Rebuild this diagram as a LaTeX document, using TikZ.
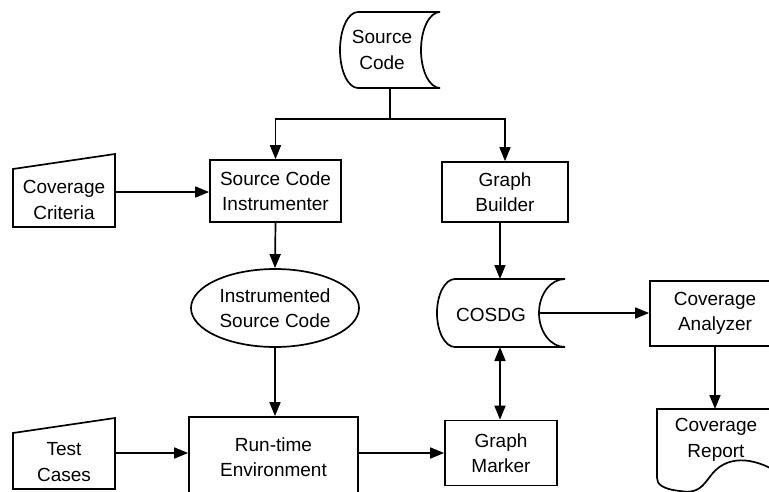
\documentclass[tikz,border=0pt]{standalone}
\usepackage{fontspec}
\setmainfont{Liberation Sans}
\usetikzlibrary{arrows.meta,shapes.geometric,calc}
\begin{document}
\begin{tikzpicture}[x=1pt,y=1pt,
  line width=1.7pt,
  every node/.style={font=\fontsize{19}{25.5}\selectfont, align=center, inner sep=0pt},
  box/.style={draw, rectangle},
  arr/.style={-{Triangle[length=14pt,width=11pt]}},
  darr/.style={{Triangle[length=14pt,width=11pt]}-{Triangle[length=14pt,width=11pt]}}]
\useasboundingbox (0,0) rectangle (769,-491);
\clip (0,0) rectangle (769,-491);

% Source Code (stored data)
\draw (358,-12) arc[start angle=90,end angle=270,x radius=18,y radius=38] -- (440,-88)
      arc[start angle=270,end angle=90,x radius=19,y radius=38] -- cycle;
\node (src) at (382,-50) {Source\\Code};
\coordinate (srcout) at (390,-88);
\coordinate (split) at (390,-119);

% Source Code Instrumenter
\node[box, minimum width=131pt, minimum height=62pt] (sci) at (275.5,-191) {Source Code\\Instrumenter};
% Graph Builder
\node[box, minimum width=126pt, minimum height=60pt] (gb) at (505,-192) {Graph\\Builder};

% Coverage Criteria (manual input)
\draw (13,-169) -- (115,-154) -- (115,-227) -- (13,-227) -- cycle;
\node (cc) at (64,-200) {Coverage\\Criteria};
\coordinate (ccout) at (115,-192);

% Instrumented Source Code
\node[draw, ellipse, minimum width=168pt, minimum height=78pt] (isc) at (275,-308) {Instrumented\\Source Code};

% Run-time Environment
\node[box, minimum width=169pt, minimum height=80pt] (rte) at (273.5,-457) {Run-time\\Environment};

% Test Cases (manual input)
\draw (13,-433) -- (115,-418) -- (115,-489) -- (13,-489) -- cycle;
\node (tc) at (64,-462) {Test\\Cases};
\coordinate (tcout) at (115,-453);

% Graph Marker
\node[box, minimum width=112pt, minimum height=65pt] (gm) at (501,-453) {Graph\\Marker};

% COSDG (stored data)
\draw (455,-279) arc[start angle=90,end angle=270,x radius=18,y radius=34] -- (565,-347)
      arc[start angle=270,end angle=90,x radius=26,y radius=34] -- cycle;
\node (cosdg) at (491,-315) {COSDG};
\coordinate (cosdgout) at (539,-313);
\coordinate (cosdgtop) at (500,-279);
\coordinate (cosdgbot) at (500,-347);

% Coverage Analyzer
\node[box, minimum width=130pt, minimum height=65pt] (ca) at (715,-313.5) {Coverage\\Analyzer};

% Coverage Report (document)
\draw (657,-409) -- (780,-409) -- (780,-474)
      .. controls (760,-460) and (730,-452) .. (712,-474)
      .. controls (702,-487) and (698,-494) .. (680,-491)
      .. controls (662,-489) and (657,-484) .. (657,-478) -- cycle;
\node (cr) at (716,-440) {Coverage\\Report};
\coordinate (crtop) at (715,-409);

% connectors
\draw (srcout) -- (split);
\draw[arr] (split) -| (sci.north);
\draw[arr] (split) -| (gb.north);
\draw[arr] (ccout) -- (ccout -| sci.west);
\draw[arr] (sci.south) -- (isc.north);
\draw[arr] (isc.south) -- (isc.south |- rte.north);
\draw[arr] (tcout) -- (tcout -| rte.west);
\draw[arr] (rte.east |- gm.west) -- (gm.west);
\draw[arr] (gb.south -| cosdgtop) -- (cosdgtop);
\draw[darr] (cosdgbot) -- (cosdgbot |- gm.north);
\draw[arr] (cosdgout) -- (cosdgout -| ca.west);
\draw[arr] (ca.south) -- (crtop);
\end{tikzpicture}
\end{document}
